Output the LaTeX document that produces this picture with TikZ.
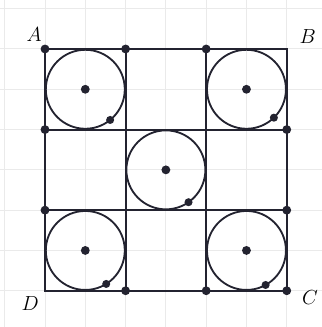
\documentclass[tikz,border=0pt]{standalone}
\usepackage{tikz}
\usetikzlibrary{calc}
\definecolor{inkdark}{RGB}{35,35,48}
\definecolor{gridgray}{RGB}{234,234,234}

\begin{document}
\begin{tikzpicture}[font=\Large, line width=1.5pt]
    \useasboundingbox (-1.117,-0.9) rectangle (6.873,7.216);
    \draw[gridgray, line width=0.7pt] (-1.117,-0.9) grid (6.873,7.216);
    % corner points of the 3x3 cells
    \foreach \i in {0,...,3} {
        \foreach \j in {0,...,3} {
            \coordinate (p\i\j) at (2*\i,2*\j);
        }
    }
    \draw[inkdark] (p03) -- (p33) -- (p30) -- (p00) -- cycle;
    \draw[inkdark] (p10) -- (p13);
    \draw[inkdark] (p20) -- (p23);
    \draw[inkdark] (p01) -- (p31);
    \draw[inkdark] (p02) -- (p32);
    \foreach \cx/\cy/\ang [count=\k] in {1/5/-51, 5/5/-46, 3/3/-55, 1/1/-58, 5/1/-61} {
        \coordinate (o\k) at (\cx,\cy);
        \draw[inkdark, line width=1.3pt] (o\k) circle (0.98);
        \fill[inkdark] (o\k) circle (0.11);
        \fill[inkdark] ($(o\k)+(\ang:0.98)$) circle (0.1);
    }
    \foreach \p in {p03,p13,p23,p32,p31,p30,p20,p10,p01,p02} {
        \fill[inkdark] (\p) circle (0.11);
    }
    \node (A) at (-0.27,6.36) {$A$};
    \node (B) at (6.52,6.3) {$B$};
    \node (C) at (6.58,-0.17) {$C$};
    \node (D) at (-0.37,-0.31) {$D$};
\end{tikzpicture}
\end{document}
